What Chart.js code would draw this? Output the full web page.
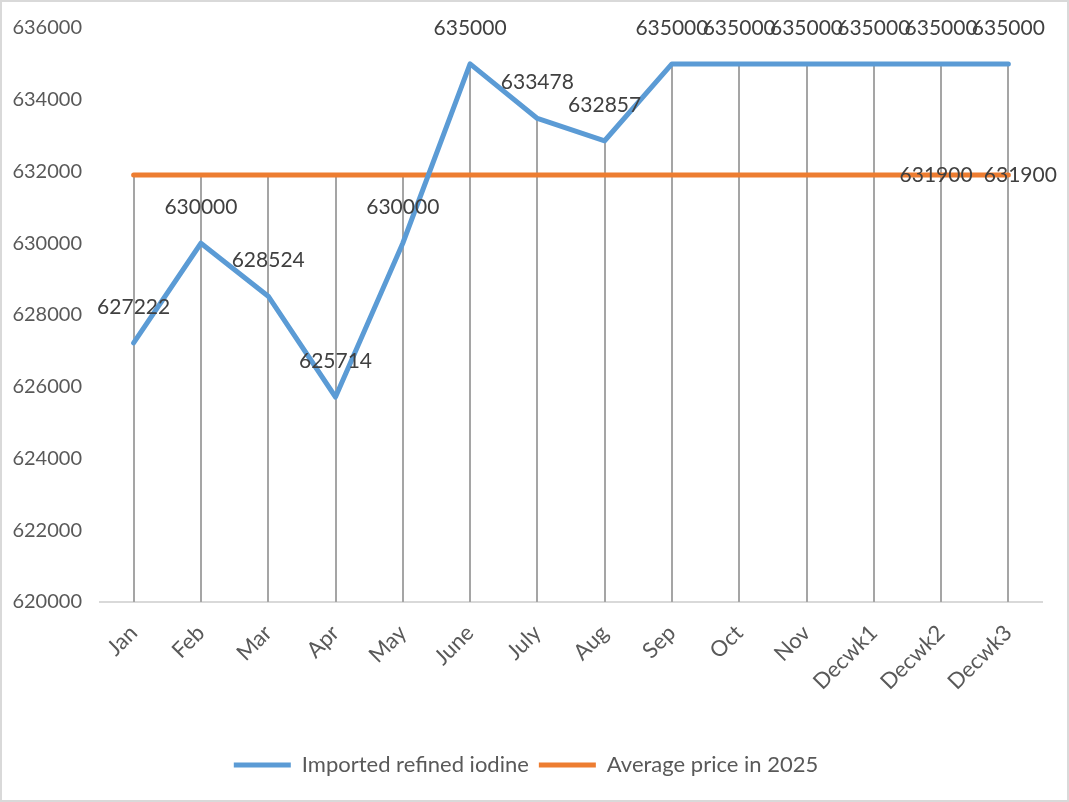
<!DOCTYPE html>
<html lang="en">
<head>
    <meta charset="UTF-8">
    <title>Imported refined iodine price</title>
    <style>
        body {
            margin: 0;
            padding: 0;
            background: #fff;
        }

        #chartBox {
            width: 1069px;
            height: 802px;
        }
    </style>
</head>
<body>
    <div id="chartBox">
        <canvas id="iodineChart"></canvas>
    </div>

    <script src="https://cdn.jsdelivr.net/npm/chart.js"></script>
    <script>
        // Dados do gráfico
        const categories = ['Jan', 'Feb', 'Mar', 'Apr', 'May', 'June', 'July', 'Aug', 'Sep', 'Oct', 'Nov', 'Decwk1', 'Decwk2', 'Decwk3'];
        const importedPrices = [627222, 630000, 628524, 625714, 630000, 635000, 633478, 632857, 635000, 635000, 635000, 635000, 635000, 635000];
        const averagePrices = [631900, 631900, 631900, 631900, 631900, 631900, 631900, 631900, 631900, 631900, 631900, 631900, 631900, 631900];
        const averageLabelShown = [false, false, false, false, false, false, false, false, false, false, false, false, true, true];
        const yMin = 620000;
        const yMax = 636000;
        const yStep = 2000;

        const fontFamily = 'Lato, "Open Sans", sans-serif';
        const textColor = '#595959';

        // Fundo branco e borda do gráfico
        const frame = {
            id: 'frame',
            beforeDraw(chart) {
                const ctx = chart.ctx;
                ctx.save();
                ctx.fillStyle = '#fff';
                ctx.fillRect(0, 0, chart.width, chart.height);
                ctx.strokeStyle = '#d9d9d9';
                ctx.lineWidth = 2;
                ctx.strokeRect(1, 1, chart.width - 2, chart.height - 2);
                ctx.restore();
            }
        };

        // Linhas de queda (do ponto mais alto até o eixo)
        const dropLines = {
            id: 'dropLines',
            beforeDatasetsDraw(chart) {
                const ctx = chart.ctx;
                const x = chart.scales.x;
                const y = chart.scales.y;
                ctx.save();
                ctx.strokeStyle = '#a5a5a5';
                ctx.lineWidth = 2;
                categories.forEach((c, i) => {
                    const top = Math.max(importedPrices[i], averagePrices[i]);
                    const px = Math.round(x.getPixelForValue(i));
                    ctx.beginPath();
                    ctx.moveTo(px, y.getPixelForValue(top));
                    ctx.lineTo(px, chart.chartArea.bottom);
                    ctx.stroke();
                });
                ctx.restore();
            }
        };

        // Rótulos de dados
        const dataLabels = {
            id: 'dataLabels',
            afterDatasetsDraw(chart) {
                const ctx = chart.ctx;
                ctx.save();
                ctx.font = '21px ' + fontFamily;
                ctx.fillStyle = '#404040';
                ctx.textAlign = 'center';
                ctx.textBaseline = 'middle';

                chart.getDatasetMeta(0).data.forEach((pt, i) => {
                    ctx.fillText(String(importedPrices[i]), pt.x, pt.y - 36);
                });
                chart.getDatasetMeta(1).data.forEach((pt, i) => {
                    if (averageLabelShown[i]) {
                        ctx.fillText(String(averagePrices[i]), pt.x + (i === categories.length - 1 ? 12 : -5), pt.y);
                    }
                });
                ctx.restore();
            }
        };

        new Chart(document.getElementById('iodineChart'), {
            type: 'line',
            data: {
                labels: categories,
                datasets: [
                    {
                        label: 'Imported refined iodine',
                        data: importedPrices,
                        borderColor: '#5b9bd5',
                        backgroundColor: '#5b9bd5',
                        borderWidth: 5,
                        pointRadius: 0,
                        tension: 0,
                        borderCapStyle: 'round',
                        borderJoinStyle: 'round'
                    },
                    {
                        label: 'Average price in 2025',
                        data: averagePrices,
                        borderColor: '#ed7d31',
                        backgroundColor: '#ed7d31',
                        borderWidth: 5,
                        pointRadius: 0,
                        tension: 0,
                        borderCapStyle: 'round'
                    }
                ]
            },
            options: {
                responsive: true,
                maintainAspectRatio: false,
                animation: false,
                layout: {
                    padding: { left: 10, right: 27, top: 28, bottom: 16 }
                },
                plugins: {
                    tooltip: { enabled: false },
                    legend: {
                        position: 'bottom',
                        labels: {
                            color: textColor,
                            font: { family: fontFamily, size: 22 },
                            boxWidth: 57,
                            boxHeight: 5,
                            padding: 10,
                            generateLabels(chart) {
                                return Chart.defaults.plugins.legend.labels.generateLabels(chart).map(item => {
                                    item.lineWidth = 0;
                                    return item;
                                });
                            }
                        }
                    }
                },
                scales: {
                    x: {
                        offset: true,
                        grid: { display: false },
                        border: { color: '#d9d9d9', width: 2 },
                        ticks: {
                            color: textColor,
                            font: { family: fontFamily, size: 22 },
                            minRotation: 45,
                            maxRotation: 45,
                            autoSkip: false,
                            padding: 10
                        },
                        afterFit(scale) {
                            scale.height = 142;
                        }
                    },
                    y: {
                        min: yMin,
                        max: yMax,
                        grid: { display: false },
                        border: { display: false },
                        ticks: {
                            stepSize: yStep,
                            color: textColor,
                            font: { family: fontFamily, size: 20 },
                            padding: 10,
                            callback: v => String(v)
                        },
                        afterFit(scale) {
                            scale.width = 90;
                        }
                    }
                }
            },
            plugins: [frame, dropLines, dataLabels]
        });
    </script>
</body>
</html>
